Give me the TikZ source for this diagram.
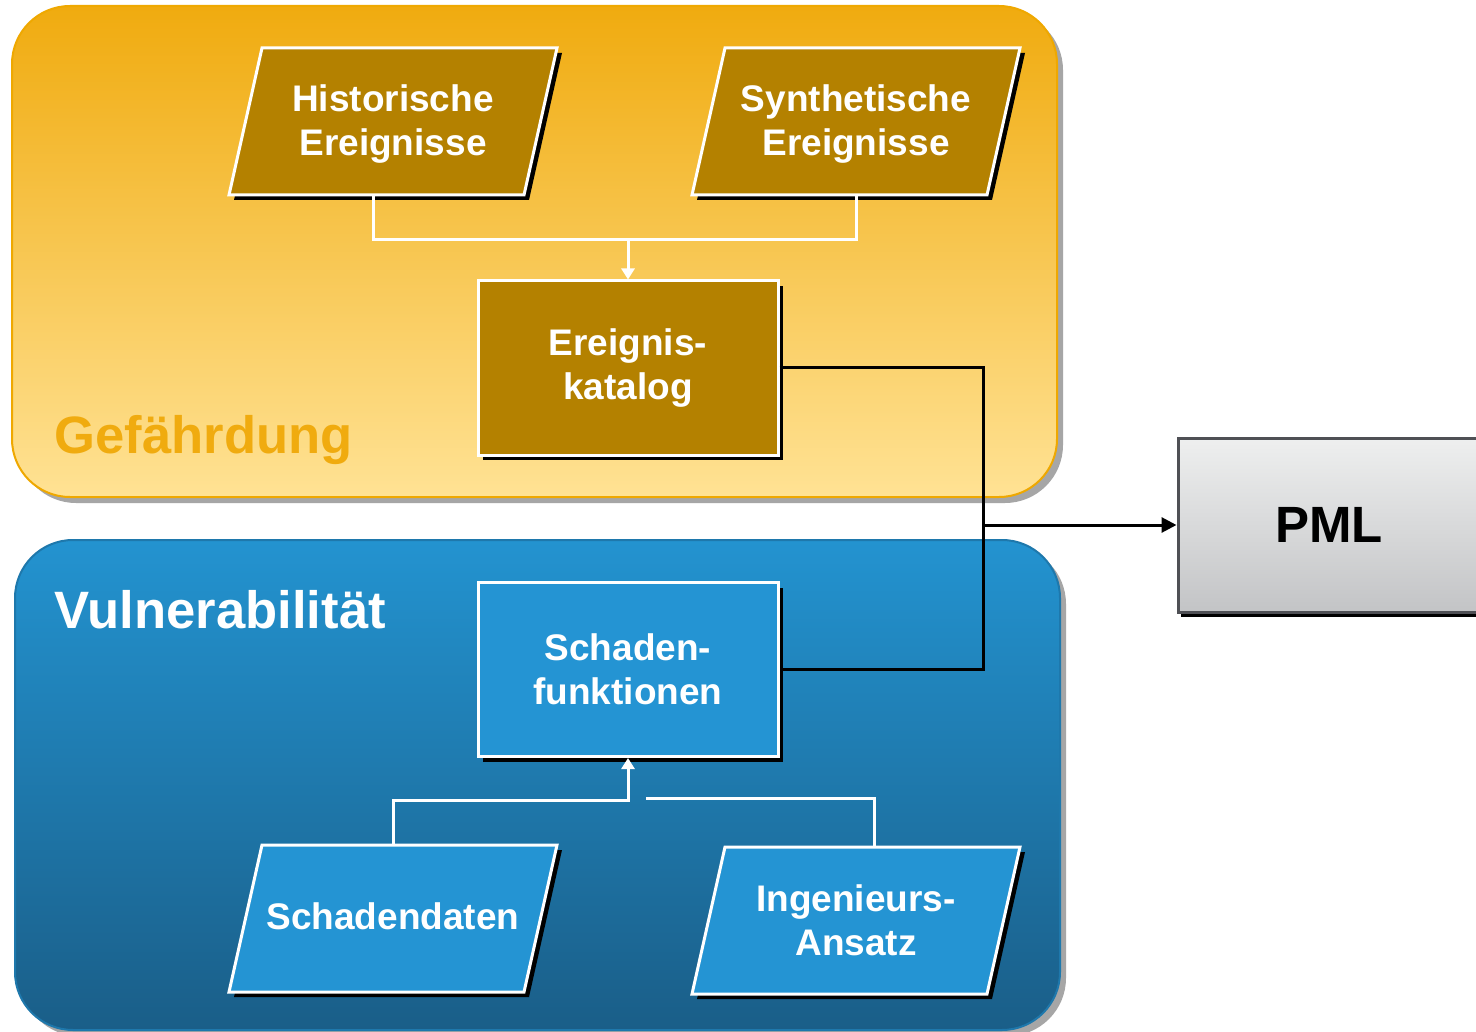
\documentclass[tikz,border=0pt]{standalone}
\usepackage{fontspec}
\setmainfont{Liberation Sans}
\usetikzlibrary{shadows,arrows.meta}
\definecolor{gold}{HTML}{B48100}
\definecolor{boxblue}{HTML}{2494D3}
\definecolor{orangetop}{HTML}{F0AB0F}
\definecolor{orangebot}{HTML}{FFE294}
\definecolor{orangeedge}{HTML}{EFA800}
\definecolor{bluetop}{HTML}{2393D0}
\definecolor{bluebot}{HTML}{1A5E88}
\definecolor{blueedge}{HTML}{1E78AC}
\definecolor{pmltop}{HTML}{EEEFEF}
\definecolor{pmlbot}{HTML}{C3C4C6}
\definecolor{pmledge}{HTML}{4F5055}
\definecolor{bigshadow}{HTML}{A6A6A6}
% parallelogram box: name, cx, cy, fill, text, text offset
\newcommand\myparabox[6]{%
  \fill[black] (#2-131+5,#3-73.5+5) -- (#2+164+5,#3-73.5+5) -- (#2+131+5,#3+73.5+5) -- (#2-164+5,#3+73.5+5) -- cycle;
  \filldraw[fill=#4,draw=white,line width=3pt,line join=miter]
    (#2-131,#3-73.5) -- (#2+164,#3-73.5) -- (#2+131,#3+73.5) -- (#2-164,#3+73.5) -- cycle;
  \node[boxtext,minimum width=295pt,minimum height=147pt] (#1) at (#2,#3) {};
  \node[boxtext] (#1text) at (#2,#3+#6) {#5};
}
\begin{document}
\begin{tikzpicture}[x=1pt,y=-1pt,
  boxtext/.style={text=white,font=\fontsize{37}{44}\selectfont\bfseries,align=center,inner sep=0pt},
  blackshadow/.style={drop shadow={shadow xshift=5pt,shadow yshift=-5pt,fill=black,opacity=1}},
  rectbox/.style={rectangle,minimum width=300pt,minimum height=174pt,
    draw=white,line width=3pt,blackshadow,boxtext},
  region/.style={rectangle,rounded corners=58pt,minimum width=1045pt,minimum height=491pt,
    line width=2pt,drop shadow={shadow xshift=6pt,shadow yshift=-6pt,fill=bigshadow,opacity=1}},
  regionlabel/.style={anchor=base west,font=\fontsize{52.6}{60}\selectfont\bfseries},
  whiteline/.style={draw=white,line width=3pt},
  blackline/.style={draw=black,line width=3pt},
]
\clip (0,0) rectangle (1476,1032);
\fill[white] (0,0) rectangle (1476,1032);

% regions
\node[region,top color=orangetop,bottom color=orangebot,draw=orangeedge] (gef) at (534.5,251.5) {};
\node[region,top color=bluetop,bottom color=bluebot,draw=blueedge,minimum height=490pt] (vul) at (537.5,785) {};
\node[regionlabel,text=orangetop] (geflabel) at (51,453) {Gefährdung};
\node[regionlabel,text=white] (vullabel) at (51,628) {Vulnerabilität};

% boxes
\myparabox{hist}{393}{121.5}{gold}{Historische\\Ereignisse}{3}
\myparabox{synth}{856}{121.5}{gold}{Synthetische\\Ereignisse}{3}
\node[rectbox,fill=gold] (kat) at (628,368) {Ereignis-\\katalog};
\node[rectbox,fill=boxblue] (schf) at (628,669.5) {Schaden-\\funktionen};
\myparabox{schd}{393}{918.5}{boxblue}{Schadendaten}{-2}
\myparabox{ing}{856}{920.5}{boxblue}{Ingenieurs-\\Ansatz}{0}

\node[rectangle,minimum width=302pt,minimum height=174pt,top color=pmltop,bottom color=pmlbot,
  draw=pmledge,line width=3pt,drop shadow={shadow xshift=3pt,shadow yshift=-5pt,fill=black,opacity=1},
  font=\fontsize{51}{60}\selectfont\bfseries] (pml) at (1329,525) {PML};

% connectors
\coordinate (j1) at (628,240);
\coordinate (j2) at (983,525);
\coordinate (j3) at (628,800);
\coordinate (j4) at (646,798);

\draw[whiteline] ([xshift=-20pt]hist.south) |- (j1) -| (synth.south);
\draw[whiteline,-{Triangle[width=13pt,length=11pt]}] (j1) -- (kat.north);

\draw[blackline] (kat.east) -| (j2) |- (schf.east);
\draw[blackline,-{Triangle[width=15pt,length=15pt]}] (j2) -- (pml.west);

\draw[whiteline,-{Triangle[width=13pt,length=11pt]}] (schd.north) |- (j3) -- (schf.south);
\draw[whiteline] ([xshift=18pt]ing.north) |- (j4);
\end{tikzpicture}
\end{document}
